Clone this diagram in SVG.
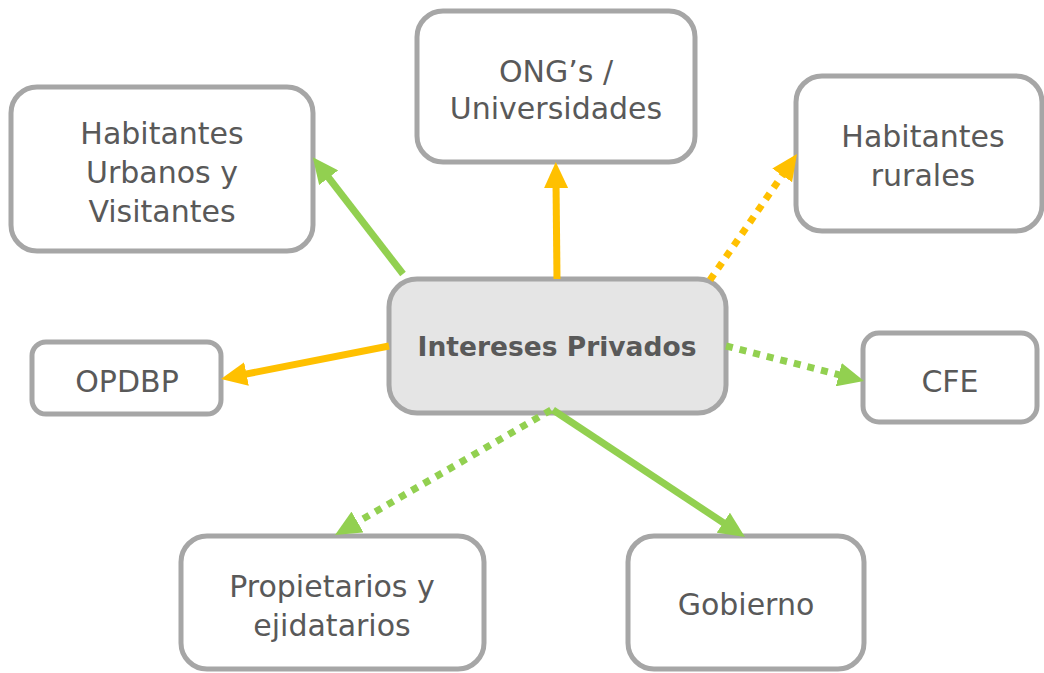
<svg xmlns="http://www.w3.org/2000/svg" width="1044" height="673" viewBox="0 0 1044 673">
<defs>
<style>
.box{fill:#ffffff;stroke:#a6a6a6;stroke-width:5}
.center{fill:#e5e5e5;stroke:#a6a6a6;stroke-width:5}
.t{font-family:"DejaVu Sans",sans-serif;font-size:30px;fill:#595959;text-anchor:middle;dominant-baseline:central}
.tb{font-family:"DejaVu Sans",sans-serif;font-size:26.5px;font-weight:bold;fill:#595959;text-anchor:middle;dominant-baseline:central}
.g{stroke:#92d050;stroke-width:7;fill:none}
.o{stroke:#ffc000;stroke-width:7;fill:none}
.dot{stroke-dasharray:7 7}
</style>
<marker id="ag" markerUnits="userSpaceOnUse" markerWidth="26" markerHeight="24" refX="6" refY="12" orient="auto" viewBox="0 0 26 24"><path d="M0,0 L26,12 L0,24 z" fill="#92d050"/></marker>
<marker id="ao" markerUnits="userSpaceOnUse" markerWidth="26" markerHeight="24" refX="6" refY="12" orient="auto" viewBox="0 0 26 24"><path d="M0,0 L26,12 L0,24 z" fill="#ffc000"/></marker>
</defs>
<rect width="1044" height="673" fill="#ffffff"/>
<g id="n-urbanos"><rect class="box" x="11" y="87" width="302" height="164" rx="26"/><text class="t" x="162" y="133">Habitantes</text><text class="t" x="162" y="172">Urbanos y</text><text class="t" x="162" y="211">Visitantes</text></g>
<g id="n-ong"><rect class="box" x="417" y="11" width="278" height="151" rx="26"/><text class="t" x="556" y="71">ONG’s /</text><text class="t" x="556" y="108">Universidades</text></g>
<g id="n-rurales"><rect class="box" x="796" y="76" width="246" height="155" rx="26"/><text class="t" x="923" y="136">Habitantes</text><text class="t" x="923" y="175">rurales</text></g>
<g id="n-opdbp"><rect class="box" x="32" y="342" width="189" height="72" rx="14"/><text class="t" x="127" y="381">OPDBP</text></g>
<g id="n-cfe"><rect class="box" x="863" y="333" width="174" height="89" rx="16"/><text class="t" x="950" y="381">CFE</text></g>
<g id="n-prop"><rect class="box" x="181" y="536" width="303" height="133" rx="26"/><text class="t" x="332" y="586">Propietarios y</text><text class="t" x="332" y="625">ejidatarios</text></g>
<g id="n-gob"><rect class="box" x="628" y="536" width="236" height="133" rx="26"/><text class="t" x="746" y="604">Gobierno</text></g>
<g id="n-center"><rect class="center" x="389" y="279" width="337" height="134" rx="28"/><text class="tb" x="557" y="346">Intereses Privados</text></g>
<g id="connectors">
<line class="g" x1="403" y1="274" x2="325" y2="173" marker-end="url(#ag)"/>
<line class="o" x1="557" y1="279" x2="556" y2="182" marker-end="url(#ao)"/>
<line class="o dot" x1="710" y1="280" x2="785.6" y2="170.5" marker-end="url(#ao)"/>
<line class="o" x1="389" y1="346" x2="240.6" y2="375.1" marker-end="url(#ao)"/>
<line class="g dot" x1="726" y1="346" x2="844.6" y2="376.1" marker-end="url(#ag)"/>
<line class="g dot" x1="551" y1="410" x2="352.3" y2="525" marker-end="url(#ag)"/>
<line class="g" x1="553" y1="410" x2="728.3" y2="526" marker-end="url(#ag)"/>
</g>
</svg>
